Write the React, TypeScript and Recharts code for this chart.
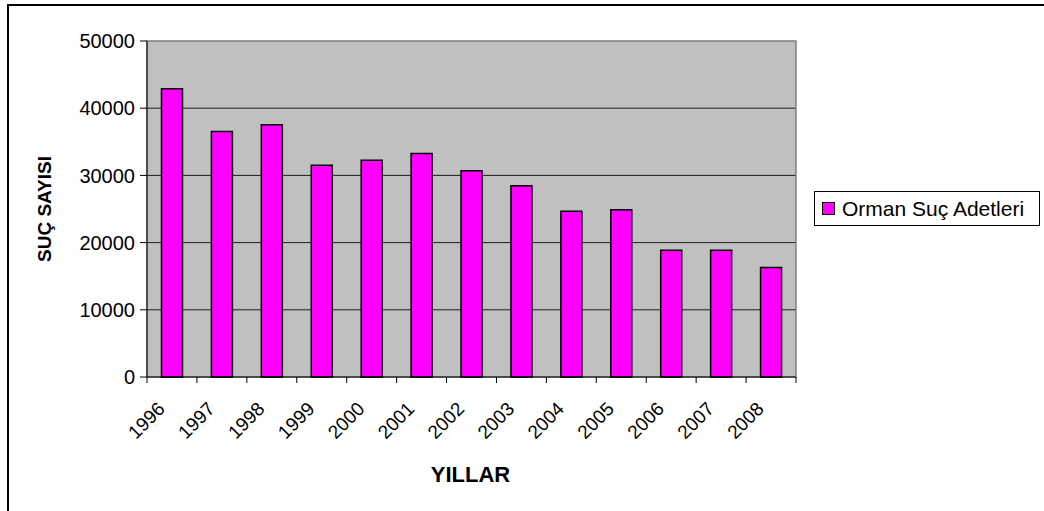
import { BarChart, Bar, XAxis, YAxis, CartesianGrid, ReferenceArea } from 'recharts'

const years = ['1996', '1997', '1998', '1999', '2000', '2001', '2002', '2003', '2004', '2005', '2006', '2007', '2008']
const crimeCounts = [42900, 36550, 37550, 31500, 32250, 33250, 30700, 28450, 24650, 24900, 18850, 18850, 16300]
const yTicks = [0, 10000, 20000, 30000, 40000, 50000]
const gridValues = [10000, 20000, 30000, 40000]
const seriesName = 'Orman Suç Adetleri'

const data = years.map((year, i) => ({ year, count: crimeCounts[i] }))

const FONT = '"Liberation Sans", Arial, sans-serif'

function YearTick(props: any) {
  const { x, y, payload, index } = props
  const half = payload?.offset ?? 25
  const last = index === years.length - 1
  const ax = x - 6
  const ay = y + 33
  return (
    <g>
      <line x1={x - half} y1={y} x2={x - half} y2={y + 6} stroke="#000" />
      {last && <line x1={x + half} y1={y} x2={x + half} y2={y + 6} stroke="#000" />}
      <text x={ax} y={ay} transform={`rotate(-45, ${ax}, ${ay})`} textAnchor="end" fontSize={19} fontFamily={FONT} fill="#000">
        {payload.value}
      </text>
    </g>
  )
}

function LegendBox() {
  return (
    <div
      style={{
        position: 'absolute',
        left: 814,
        top: 191,
        width: 226,
        height: 35,
        border: '1px solid #000',
        background: '#fff',
        display: 'flex',
        alignItems: 'center',
        boxSizing: 'border-box',
        fontFamily: FONT,
        fontSize: 21,
        color: '#000',
        whiteSpace: 'nowrap',
      }}
    >
      <span style={{ display: 'inline-block', width: 11, height: 11, background: '#FF00FF', border: '1px solid #000', marginLeft: 7, marginRight: 7 }} />
      {seriesName}
    </div>
  )
}

export default function App() {
  return (
    <div style={{ position: 'absolute', left: 0, top: 0, width: 1044, height: 511, background: '#fff', overflow: 'hidden' }}>
      <div style={{ position: 'absolute', left: 7, top: 4, width: 1100, height: 600, borderLeft: '2px solid #000', borderTop: '2px solid #000' }} />
      <BarChart
        width={1044}
        height={511}
        data={data}
        margin={{ top: 41, right: 248, bottom: 0, left: 0 }}
        barCategoryGap="29%"
        style={{ position: 'absolute', left: 0, top: 0 }}
      >
        <CartesianGrid horizontal vertical={false} horizontalValues={gridValues} fill="#C0C0C0" stroke="#000" strokeOpacity={0.85} />
        <ReferenceArea y1={0} y2={50000} fill="none" stroke="#808080" strokeWidth={1.5} />
        <XAxis
          dataKey="year"
          height={134}
          tickSize={0}
          tickMargin={0}
          tickLine={false}
          axisLine={{ stroke: '#000' }}
          tick={<YearTick />}
          interval={0}
          label={{
            content: (p: any) => {
              const vb = p.viewBox
              return (
                <text x={vb.x + vb.width / 2 - 1} y={482} textAnchor="middle" fontSize={22} fontWeight="bold" fontFamily={FONT} fill="#000">
                  YILLAR
                </text>
              )
            },
          }}
        />
        <YAxis
          width={147}
          domain={[0, 50000]}
          ticks={yTicks}
          interval={0}
          tickSize={7}
          tickMargin={5}
          axisLine={{ stroke: '#000' }}
          tickLine={{ stroke: '#000' }}
          tick={{ fontSize: 20, fontFamily: FONT, fill: '#000' }}
          label={{
            content: (p: any) => {
              const vb = p.viewBox
              const cx = 44
              const cy = vb.y + vb.height / 2
              return (
                <text x={cx} y={cy} transform={`rotate(-90, ${cx}, ${cy})`} textAnchor="middle" dominantBaseline="central" fontSize={19} fontWeight="bold" fontFamily={FONT} fill="#000">
                  SUÇ SAYISI
                </text>
              )
            },
          }}
        />
        <Bar dataKey="count" name={seriesName} fill="#FF00FF" stroke="#000" strokeWidth={1.5} isAnimationActive={false} />
      </BarChart>
      <LegendBox />
    </div>
  )
}
